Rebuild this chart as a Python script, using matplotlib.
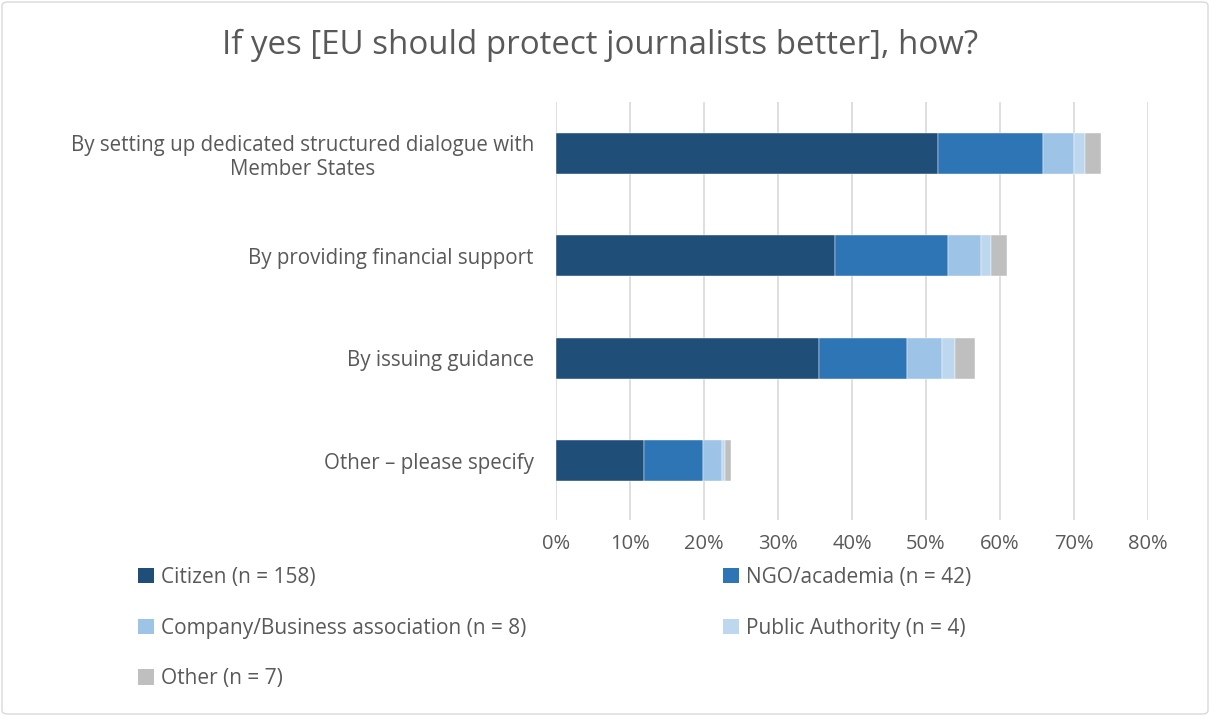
import matplotlib
matplotlib.use("Agg")
import matplotlib.pyplot as plt
from matplotlib.patches import Patch, FancyBboxPatch
import numpy as np

plt.rcParams['font.family'] = ['Open Sans', 'DejaVu Sans']

title = "If yes [EU should protect journalists better], how?"
categories = [
    "By setting up dedicated structured dialogue with\nMember States",
    "By providing financial support",
    "By issuing guidance",
    "Other \u2013 please specify",
]
series_names = [
    "Citizen (n = 158)",
    "NGO/academia (n = 42)",
    "Company/Business association (n = 8)",
    "Public Authority (n = 4)",
    "Other (n = 7)",
]
citizen = [51.6, 37.7, 35.5, 11.9]
ngo = [14.2, 15.3, 11.9, 7.9]
company = [4.2, 4.4, 4.8, 2.6]
public = [1.5, 1.4, 1.7, 0.4]
other = [2.1, 2.2, 2.7, 0.9]
series_values = [citizen, ngo, company, public, other]
colors = ["#1F4E79", "#2E75B6", "#9DC3E6", "#BDD7EE", "#BFBFBF"]
xticks = [0, 10, 20, 30, 40, 50, 60, 70, 80]
xticklabels = [f"{t}%" for t in xticks]

text_color = "#595959"

fig = plt.figure(figsize=(12.1, 7.16), dpi=100)
ax = fig.add_axes([556/1210, 1 - 520/716, 592/1210, 418/716])

y = np.arange(len(categories))
left = np.zeros(len(categories))
handles = []
for name, vals, c in zip(series_names, series_values, colors):
    vals = np.array(vals)
    ax.barh(y, vals, left=left, height=0.4, color=c, edgecolor='white', linewidth=0.3, zorder=3)
    left += vals
    handles.append(Patch(facecolor=c, edgecolor='none', label=name))

ax.set_xlim(0, 80)
ax.set_ylim(len(categories) - 0.42, -0.5)
ax.set_xticks(xticks)
ax.set_xticklabels(xticklabels, fontsize=14.5, color=text_color)
ax.set_yticks(y)
ax.set_yticklabels(categories, fontsize=14.8, color=text_color, ha='right', multialignment='center')
ax.tick_params(axis='both', length=0)
ax.tick_params(axis='y', pad=16)
ax.tick_params(axis='x', pad=10)
ax.grid(axis='x', color='#D9D9D9', linewidth=1.2, zorder=0)
for s in ax.spines.values():
    s.set_visible(False)

fig.text(600/1210, 1 - 45/716, title, ha='center', va='center', fontsize=23.8, color=text_color)

leg_kw = dict(frameon=False, fontsize=15, labelcolor=text_color, handlelength=0.75,
              handleheight=0.75, handletextpad=0.35, labelspacing=1.42, loc='upper left',
              borderpad=0, borderaxespad=0)
leg1 = fig.legend(handles=[handles[0], handles[2], handles[4]], bbox_to_anchor=(138/1210, 1 - 567/716), **leg_kw)
leg2 = fig.legend(handles=[handles[1], handles[3]], bbox_to_anchor=(723/1210, 1 - 567/716), **leg_kw)

border = FancyBboxPatch((2/1210, 2/716), 1 - 4/1210, 1 - 4/716, boxstyle="round,pad=0,rounding_size=0.005",
                        transform=fig.transFigure, facecolor='none', edgecolor='#D9D9D9', linewidth=1)
fig.patches.append(border)

fig.savefig("out.png", dpi=100)
